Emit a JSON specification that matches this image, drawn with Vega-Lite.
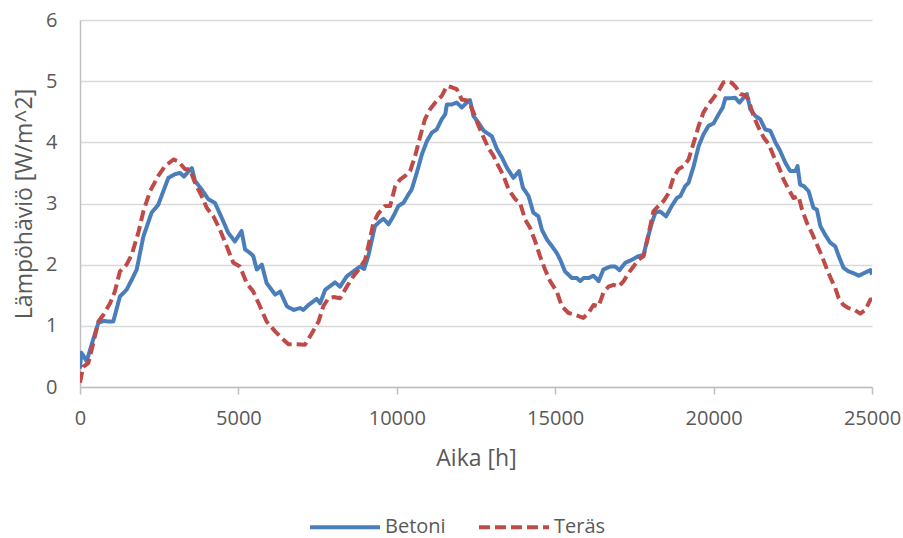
{
  "$schema": "https://vega.github.io/schema/vega-lite/v6.json",
  "width": 792,
  "height": 367,
  "autosize": {"type": "none"},
  "padding": {"left": 80, "top": 20, "right": 31, "bottom": 151},
  "background": "white",
  "config": {
    "view": {"stroke": null},
    "font": "Open Sans",
    "axis": {"labelFont": "Open Sans", "titleFont": "Open Sans", "labelColor": "#595959", "titleColor": "#595959", "titleFontWeight": "normal"}
  },
  "datasets": {
    "betoni": [
      {"aika":0,"arvo":0.3},{"aika":40,"arvo":0.56},{"aika":120,"arvo":0.5},{"aika":210,"arvo":0.42},{"aika":400,"arvo":0.75},{"aika":580,"arvo":1.05},{"aika":750,"arvo":1.08},{"aika":900,"arvo":1.07},{"aika":1050,"arvo":1.07},{"aika":1260,"arvo":1.48},{"aika":1470,"arvo":1.59},{"aika":1630,"arvo":1.75},{"aika":1790,"arvo":1.92},{"aika":2000,"arvo":2.46},{"aika":2260,"arvo":2.85},{"aika":2470,"arvo":2.98},{"aika":2630,"arvo":3.2},{"aika":2790,"arvo":3.42},{"aika":3000,"arvo":3.48},{"aika":3160,"arvo":3.5},{"aika":3280,"arvo":3.44},{"aika":3530,"arvo":3.58},{"aika":3630,"arvo":3.37},{"aika":3840,"arvo":3.23},{"aika":4050,"arvo":3.07},{"aika":4260,"arvo":3.01},{"aika":4470,"arvo":2.77},{"aika":4680,"arvo":2.52},{"aika":4890,"arvo":2.38},{"aika":5100,"arvo":2.55},{"aika":5210,"arvo":2.25},{"aika":5370,"arvo":2.19},{"aika":5470,"arvo":2.14},{"aika":5580,"arvo":1.92},{"aika":5740,"arvo":2.0},{"aika":5890,"arvo":1.7},{"aika":6160,"arvo":1.51},{"aika":6320,"arvo":1.56},{"aika":6530,"arvo":1.32},{"aika":6740,"arvo":1.26},{"aika":6950,"arvo":1.29},{"aika":7050,"arvo":1.26},{"aika":7210,"arvo":1.34},{"aika":7470,"arvo":1.44},{"aika":7580,"arvo":1.37},{"aika":7740,"arvo":1.59},{"aika":7950,"arvo":1.67},{"aika":8050,"arvo":1.71},{"aika":8210,"arvo":1.64},{"aika":8420,"arvo":1.81},{"aika":8630,"arvo":1.89},{"aika":8840,"arvo":1.97},{"aika":8970,"arvo":1.93},{"aika":9100,"arvo":2.14},{"aika":9310,"arvo":2.63},{"aika":9470,"arvo":2.71},{"aika":9580,"arvo":2.75},{"aika":9740,"arvo":2.66},{"aika":9890,"arvo":2.79},{"aika":10050,"arvo":2.96},{"aika":10210,"arvo":3.01},{"aika":10370,"arvo":3.15},{"aika":10470,"arvo":3.23},{"aika":10630,"arvo":3.5},{"aika":10790,"arvo":3.8},{"aika":10950,"arvo":4.02},{"aika":11110,"arvo":4.16},{"aika":11260,"arvo":4.21},{"aika":11420,"arvo":4.38},{"aika":11530,"arvo":4.46},{"aika":11580,"arvo":4.62},{"aika":11740,"arvo":4.62},{"aika":11890,"arvo":4.65},{"aika":12050,"arvo":4.57},{"aika":12210,"arvo":4.65},{"aika":12310,"arvo":4.69},{"aika":12420,"arvo":4.43},{"aika":12580,"arvo":4.32},{"aika":12740,"arvo":4.19},{"aika":13000,"arvo":4.1},{"aika":13160,"arvo":3.89},{"aika":13320,"arvo":3.75},{"aika":13470,"arvo":3.59},{"aika":13680,"arvo":3.42},{"aika":13860,"arvo":3.53},{"aika":13980,"arvo":3.26},{"aika":14160,"arvo":3.12},{"aika":14310,"arvo":2.85},{"aika":14470,"arvo":2.79},{"aika":14580,"arvo":2.57},{"aika":14740,"arvo":2.41},{"aika":14900,"arvo":2.3},{"aika":15050,"arvo":2.19},{"aika":15160,"arvo":2.08},{"aika":15310,"arvo":1.89},{"aika":15530,"arvo":1.78},{"aika":15690,"arvo":1.78},{"aika":15790,"arvo":1.73},{"aika":15890,"arvo":1.78},{"aika":16050,"arvo":1.78},{"aika":16210,"arvo":1.82},{"aika":16370,"arvo":1.73},{"aika":16520,"arvo":1.92},{"aika":16740,"arvo":1.97},{"aika":16890,"arvo":1.97},{"aika":17030,"arvo":1.91},{"aika":17210,"arvo":2.03},{"aika":17420,"arvo":2.08},{"aika":17630,"arvo":2.14},{"aika":17790,"arvo":2.16},{"aika":17890,"arvo":2.38},{"aika":18050,"arvo":2.68},{"aika":18160,"arvo":2.85},{"aika":18310,"arvo":2.87},{"aika":18500,"arvo":2.79},{"aika":18680,"arvo":2.96},{"aika":18840,"arvo":3.09},{"aika":18950,"arvo":3.12},{"aika":19100,"arvo":3.28},{"aika":19210,"arvo":3.34},{"aika":19370,"arvo":3.61},{"aika":19530,"arvo":3.94},{"aika":19680,"arvo":4.13},{"aika":19840,"arvo":4.27},{"aika":20000,"arvo":4.31},{"aika":20160,"arvo":4.46},{"aika":20290,"arvo":4.57},{"aika":20370,"arvo":4.72},{"aika":20520,"arvo":4.72},{"aika":20680,"arvo":4.73},{"aika":20820,"arvo":4.65},{"aika":20950,"arvo":4.73},{"aika":21050,"arvo":4.79},{"aika":21160,"arvo":4.54},{"aika":21320,"arvo":4.43},{"aika":21470,"arvo":4.38},{"aika":21630,"arvo":4.21},{"aika":21790,"arvo":4.19},{"aika":21950,"arvo":4.0},{"aika":22100,"arvo":3.86},{"aika":22260,"arvo":3.67},{"aika":22420,"arvo":3.53},{"aika":22580,"arvo":3.53},{"aika":22650,"arvo":3.61},{"aika":22730,"arvo":3.31},{"aika":22860,"arvo":3.28},{"aika":23000,"arvo":3.2},{"aika":23150,"arvo":2.93},{"aika":23260,"arvo":2.9},{"aika":23370,"arvo":2.63},{"aika":23520,"arvo":2.49},{"aika":23680,"arvo":2.36},{"aika":23840,"arvo":2.3},{"aika":23950,"arvo":2.14},{"aika":24100,"arvo":1.95},{"aika":24260,"arvo":1.89},{"aika":24420,"arvo":1.86},{"aika":24580,"arvo":1.82},{"aika":24740,"arvo":1.86},{"aika":24950,"arvo":1.91},{"aika":25000,"arvo":1.84}
    ],
    "teras": [
      {"aika":0,"arvo":0.07},{"aika":100,"arvo":0.33},{"aika":260,"arvo":0.39},{"aika":420,"arvo":0.72},{"aika":580,"arvo":1.07},{"aika":740,"arvo":1.18},{"aika":950,"arvo":1.37},{"aika":1100,"arvo":1.56},{"aika":1260,"arvo":1.89},{"aika":1470,"arvo":2.0},{"aika":1630,"arvo":2.16},{"aika":1840,"arvo":2.52},{"aika":2000,"arvo":2.87},{"aika":2210,"arvo":3.2},{"aika":2470,"arvo":3.45},{"aika":2680,"arvo":3.61},{"aika":2950,"arvo":3.72},{"aika":3100,"arvo":3.69},{"aika":3320,"arvo":3.56},{"aika":3470,"arvo":3.56},{"aika":3630,"arvo":3.34},{"aika":3840,"arvo":3.12},{"aika":4000,"arvo":2.93},{"aika":4210,"arvo":2.79},{"aika":4420,"arvo":2.57},{"aika":4630,"arvo":2.3},{"aika":4840,"arvo":2.03},{"aika":5050,"arvo":1.97},{"aika":5260,"arvo":1.7},{"aika":5470,"arvo":1.56},{"aika":5680,"arvo":1.32},{"aika":5890,"arvo":1.07},{"aika":6160,"arvo":0.91},{"aika":6370,"arvo":0.8},{"aika":6580,"arvo":0.7},{"aika":6840,"arvo":0.7},{"aika":7100,"arvo":0.69},{"aika":7320,"arvo":0.88},{"aika":7530,"arvo":1.07},{"aika":7680,"arvo":1.32},{"aika":7840,"arvo":1.45},{"aika":8000,"arvo":1.47},{"aika":8210,"arvo":1.45},{"aika":8420,"arvo":1.64},{"aika":8630,"arvo":1.81},{"aika":8840,"arvo":1.95},{"aika":9000,"arvo":2.08},{"aika":9100,"arvo":2.3},{"aika":9260,"arvo":2.68},{"aika":9420,"arvo":2.84},{"aika":9630,"arvo":2.96},{"aika":9790,"arvo":2.96},{"aika":9950,"arvo":3.28},{"aika":10100,"arvo":3.39},{"aika":10260,"arvo":3.45},{"aika":10420,"arvo":3.53},{"aika":10580,"arvo":3.78},{"aika":10740,"arvo":4.1},{"aika":10890,"arvo":4.38},{"aika":11050,"arvo":4.54},{"aika":11260,"arvo":4.68},{"aika":11420,"arvo":4.76},{"aika":11580,"arvo":4.92},{"aika":11740,"arvo":4.9},{"aika":11890,"arvo":4.87},{"aika":12050,"arvo":4.7},{"aika":12260,"arvo":4.68},{"aika":12420,"arvo":4.49},{"aika":12580,"arvo":4.27},{"aika":12740,"arvo":4.08},{"aika":12890,"arvo":3.91},{"aika":13050,"arvo":3.78},{"aika":13210,"arvo":3.61},{"aika":13370,"arvo":3.45},{"aika":13530,"arvo":3.23},{"aika":13740,"arvo":3.07},{"aika":13890,"arvo":3.01},{"aika":14050,"arvo":2.74},{"aika":14210,"arvo":2.6},{"aika":14370,"arvo":2.38},{"aika":14520,"arvo":2.14},{"aika":14680,"arvo":1.92},{"aika":14840,"arvo":1.73},{"aika":15050,"arvo":1.56},{"aika":15210,"arvo":1.32},{"aika":15420,"arvo":1.21},{"aika":15630,"arvo":1.18},{"aika":15890,"arvo":1.13},{"aika":16050,"arvo":1.21},{"aika":16210,"arvo":1.34},{"aika":16370,"arvo":1.32},{"aika":16520,"arvo":1.54},{"aika":16680,"arvo":1.64},{"aika":16840,"arvo":1.67},{"aika":17000,"arvo":1.64},{"aika":17160,"arvo":1.73},{"aika":17310,"arvo":1.86},{"aika":17470,"arvo":1.97},{"aika":17630,"arvo":2.08},{"aika":17790,"arvo":2.14},{"aika":17890,"arvo":2.36},{"aika":18000,"arvo":2.63},{"aika":18100,"arvo":2.87},{"aika":18260,"arvo":2.96},{"aika":18420,"arvo":3.04},{"aika":18580,"arvo":3.17},{"aika":18730,"arvo":3.42},{"aika":18890,"arvo":3.56},{"aika":19050,"arvo":3.61},{"aika":19210,"arvo":3.72},{"aika":19370,"arvo":3.99},{"aika":19530,"arvo":4.27},{"aika":19680,"arvo":4.49},{"aika":19840,"arvo":4.62},{"aika":20000,"arvo":4.73},{"aika":20160,"arvo":4.84},{"aika":20310,"arvo":4.98},{"aika":20420,"arvo":5.0},{"aika":20580,"arvo":4.97},{"aika":20710,"arvo":4.9},{"aika":20840,"arvo":4.79},{"aika":21000,"arvo":4.77},{"aika":21100,"arvo":4.7},{"aika":21260,"arvo":4.43},{"aika":21420,"arvo":4.24},{"aika":21580,"arvo":4.08},{"aika":21740,"arvo":3.97},{"aika":21890,"arvo":3.78},{"aika":22050,"arvo":3.61},{"aika":22210,"arvo":3.39},{"aika":22370,"arvo":3.23},{"aika":22520,"arvo":3.09},{"aika":22680,"arvo":3.12},{"aika":22790,"arvo":2.9},{"aika":22950,"arvo":2.68},{"aika":23100,"arvo":2.52},{"aika":23260,"arvo":2.33},{"aika":23420,"arvo":2.14},{"aika":23580,"arvo":1.92},{"aika":23740,"arvo":1.73},{"aika":23840,"arvo":1.62},{"aika":23950,"arvo":1.45},{"aika":24100,"arvo":1.34},{"aika":24260,"arvo":1.29},{"aika":24420,"arvo":1.27},{"aika":24630,"arvo":1.2},{"aika":24790,"arvo":1.26},{"aika":24950,"arvo":1.43},{"aika":25000,"arvo":1.43}
    ]
  },
  "encoding": {
    "x": {"field": "aika", "type": "quantitative", "scale": {"domain": [0, 25000], "nice": false},
      "axis": {"title": "Aika [h]", "values": [0, 5000, 10000, 15000, 20000, 25000], "format": "d", "grid": false, "domainColor": "#bfbfbf", "domainWidth": 1.5, "tickColor": "#bfbfbf", "tickSize": 7, "tickWidth": 1.5, "labelFontSize": 20, "labelPadding": 14, "titleFontSize": 23, "titlePadding": 19, "labelFlush": false}},
    "y": {"field": "arvo", "type": "quantitative", "scale": {"domain": [0, 6], "nice": false},
      "axis": {"title": "Lämpöhäviö [W/m^2]", "values": [0, 1, 2, 3, 4, 5, 6], "format": "d", "labelOverlap": false, "grid": true, "gridColor": "#d9d9d9", "gridWidth": 1.5, "domainColor": "#bfbfbf", "domainWidth": 1.5, "ticks": false, "labelFontSize": 20, "labelPadding": 23, "titleFontSize": 23, "titlePadding": 9}},
    "color": {"field": "sarja", "type": "nominal", "scale": {"domain": ["Betoni", "Teräs"], "range": ["#4a7ebb", "#be4b48"]},
      "legend": {"title": null, "orient": "none", "legendX": 245.5, "legendY": 487.5, "direction": "horizontal", "symbolType": "M-2,0H2", "symbolSize": 1225, "symbolStrokeWidth": 4, "symbolFillColor": "transparent", "labelFontSize": 20, "labelColor": "#595959", "labelFont": "Open Sans", "labelOffset": 20.5, "columnPadding": 24}},
    "strokeDash": {"field": "sarja", "type": "nominal", "scale": {"domain": ["Betoni", "Teräs"], "range": [[1, 0], [11, 5]]},
      "legend": {"title": null, "orient": "none", "legendX": 245.5, "legendY": 487.5, "direction": "horizontal", "symbolType": "M-2,0H2", "symbolSize": 1225, "symbolStrokeWidth": 4, "symbolFillColor": "transparent", "labelFontSize": 20, "labelColor": "#595959", "labelFont": "Open Sans", "labelOffset": 20.5, "columnPadding": 24}}
  },
  "layer": [
    {
      "data": {"name": "betoni"},
      "transform": [{"calculate": "'Betoni'", "as": "sarja"}],
      "mark": {"type": "line", "strokeWidth": 4, "strokeJoin": "round", "clip": true}
    },
    {
      "data": {"name": "teras"},
      "transform": [{"calculate": "'Teräs'", "as": "sarja"}],
      "mark": {"type": "line", "strokeWidth": 4, "strokeJoin": "round", "clip": true}
    }
  ]
}
